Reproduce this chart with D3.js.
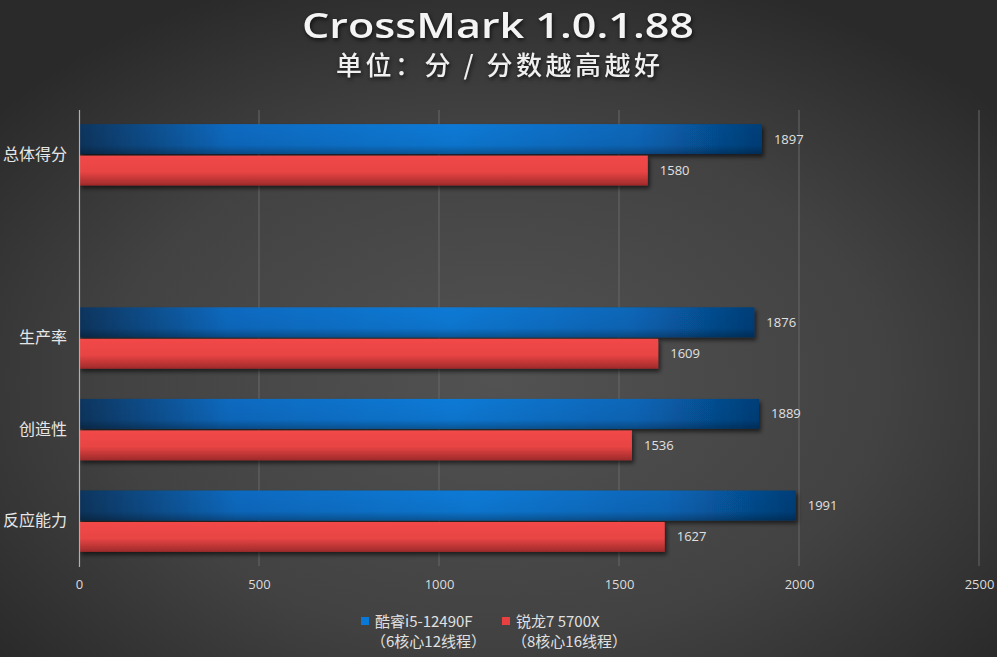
<!DOCTYPE html>
<html><head><meta charset="utf-8">
<script src="https://cdn.jsdelivr.net/npm/d3@7"></script>
<style>
html,body{margin:0;padding:0;background:#333;}
svg{display:block;}
</style></head>
<body>
<svg id="chart" width="997" height="657"></svg>
<script>
const categories = ["总体得分", "", "生产率", "创造性", "反应能力"];
const seriesNames = ["酷睿i5-12490F", "锐龙7 5700X"];
const seriesSub = ["（6核心12线程）", "（8核心16线程）"];
const intelValues = [1897, null, 1876, 1889, 1991];
const amdValues = [1580, null, 1609, 1536, 1627];
const xTicks = [0, 500, 1000, 1500, 2000, 2500];
const title = "CrossMark 1.0.1.88";
const subtitle = "单位：分 / 分数越高越好";

const W = 997, H = 657;
const svg = d3.select("#chart");
const defs = svg.append("defs");

// background radial gradient
const bg = defs.append("radialGradient").attr("id","bg").attr("cx","50%").attr("cy","58%").attr("r","65%");
bg.append("stop").attr("offset","0%").attr("stop-color","#525252");
bg.append("stop").attr("offset","60%").attr("stop-color","#424242");
bg.append("stop").attr("offset","100%").attr("stop-color","#2a2a2a");
svg.append("rect").attr("width",W).attr("height",H).attr("fill","url(#bg)");

// blue horizontal gradient
const gb = defs.append("linearGradient").attr("id","gBlue").attr("x1","0").attr("x2","1").attr("y1","0").attr("y2","0");
gb.append("stop").attr("offset","0%").attr("stop-color","#0a355e");
gb.append("stop").attr("offset","22%").attr("stop-color","#0a6ac0");
gb.append("stop").attr("offset","55%").attr("stop-color","#0a7ad6");
gb.append("stop").attr("offset","82%").attr("stop-color","#0866b8");
gb.append("stop").attr("offset","100%").attr("stop-color","#053e78");
const gbv = defs.append("linearGradient").attr("id","gBlueV").attr("x1","0").attr("x2","0").attr("y1","0").attr("y2","1");
gbv.append("stop").attr("offset","0%").attr("stop-color","#000").attr("stop-opacity",0);
gbv.append("stop").attr("offset","70%").attr("stop-color","#000").attr("stop-opacity",0.05);
gbv.append("stop").attr("offset","100%").attr("stop-color","#000").attr("stop-opacity",0.3);

const gr = defs.append("linearGradient").attr("id","gRed").attr("x1","0").attr("x2","0").attr("y1","0").attr("y2","1");
gr.append("stop").attr("offset","0%").attr("stop-color","#f24848");
gr.append("stop").attr("offset","55%").attr("stop-color","#e84444");
gr.append("stop").attr("offset","100%").attr("stop-color","#9e2a2a");

const sh = defs.append("filter").attr("id","shadow").attr("x","-5%").attr("y","-30%").attr("width","110%").attr("height","170%");
sh.append("feDropShadow").attr("dx",2).attr("dy",3).attr("stdDeviation",2).attr("flood-color","#000").attr("flood-opacity",0.6);

const x = d3.scaleLinear().domain([0, 2500]).range([79, 979]);
const y = d3.scaleBand().domain(categories.map((c,i)=>i)).range([109, 567]).paddingInner(0.33).paddingOuter(0.165);
const sub = d3.scaleBand().domain([0,1]).range([0, y.bandwidth()]).paddingInner(0.05);

// gridlines
svg.append("g").selectAll("line").data(xTicks.slice(1)).join("line")
  .attr("x1",d=>x(d)).attr("x2",d=>x(d)).attr("y1",110).attr("y2",566)
  .attr("stroke","#686868").attr("stroke-width",1);

// x axis labels
const xAxis = d3.axisBottom(x).tickValues(xTicks).tickFormat(d3.format("d")).tickSize(0).tickPadding(14);
const xg = svg.append("g").attr("transform","translate(0,566)").call(xAxis);
xg.select(".domain").remove();
xg.selectAll("text").attr("fill","#dcdcdc").attr("font-family","'Open Sans', sans-serif").attr("font-size",13);

// category labels
const yAxis = d3.axisLeft(y).tickFormat(i=>categories[i]).tickSize(0).tickPadding(12);
const yg = svg.append("g").attr("transform","translate(79,0)").call(yAxis);
yg.select(".domain").remove();
yg.selectAll("text").attr("fill","#e6e6e6").attr("font-family","'Noto Sans CJK SC', sans-serif").attr("font-size",16);

const series = [
  {vals: intelValues, fill:"url(#gBlue)", overlay:"url(#gBlueV)"},
  {vals: amdValues, fill:"url(#gRed)", overlay:null}
];
series.forEach((s, si) => {
  const data = s.vals.map((v,i)=>({v,i})).filter(d=>d.v!=null);
  const g = svg.append("g");
  g.selectAll("rect.bar").data(data).join("rect").attr("class","bar")
    .attr("x", x(0)).attr("y", d=>y(d.i)+sub(si))
    .attr("width", d=>x(d.v)-x(0)).attr("height", sub.bandwidth())
    .attr("fill", s.fill).attr("filter","url(#shadow)");
  if (s.overlay) {
    g.selectAll("rect.ov").data(data).join("rect").attr("class","ov")
      .attr("x", x(0)).attr("y", d=>y(d.i)+sub(si))
      .attr("width", d=>x(d.v)-x(0)).attr("height", sub.bandwidth())
      .attr("fill", s.overlay);
  }
  g.selectAll("text").data(data).join("text")
    .attr("x", d=>x(d.v)+12).attr("y", d=>y(d.i)+sub(si)+sub.bandwidth()/2)
    .attr("dy","0.35em").attr("fill","#e0e0e0")
    .attr("font-family","'Open Sans', sans-serif").attr("font-size",13)
    .text(d=>d.v);
});

// y axis line
svg.append("line").attr("x1",79.5).attr("x2",79.5).attr("y1",110).attr("y2",567)
  .attr("stroke","#b0b0b0").attr("stroke-width",1.2);

// title
svg.append("text").attr("x",498).attr("y",38).attr("text-anchor","middle")
  .attr("fill","#f4f4f4").attr("font-family","'Open Sans', sans-serif").attr("font-weight",600)
  .attr("font-size",35)
  .attr("textLength",392).attr("lengthAdjust","spacingAndGlyphs")
  .style("filter","drop-shadow(1px 2px 2px rgba(0,0,0,0.7))").text(title);
svg.append("text").attr("x",498).attr("y",68).attr("text-anchor","middle")
  .attr("fill","#f0f0f0").attr("font-family","'Noto Sans CJK SC', sans-serif").attr("font-weight",500)
  .attr("font-size",26).attr("dominant-baseline","middle")
  .attr("textLength",324).attr("lengthAdjust","spacing")
  .style("filter","drop-shadow(1px 2px 2px rgba(0,0,0,0.7))").text(subtitle);

// legend
const legendColors = ["#0a78d6", "#e84040"];
const legX = [361, 502];
seriesNames.forEach((n,i)=>{
  const lg = svg.append("g");
  lg.append("rect").attr("x",legX[i]).attr("y",617).attr("width",8).attr("height",8).attr("fill",legendColors[i]);
  lg.append("text").attr("x",legX[i]+14).attr("y",622).attr("dy","0.35em")
    .attr("fill","#e0e0e0").attr("font-family","'Noto Sans CJK SC', sans-serif").attr("font-size",15).text(n);
  lg.append("text").attr("x",legX[i]+10).attr("y",642).attr("dy","0.35em")
    .attr("fill","#e0e0e0").attr("font-family","'Noto Sans CJK SC', sans-serif").attr("font-size",15).text(seriesSub[i]);
});
</script>
</body></html>
